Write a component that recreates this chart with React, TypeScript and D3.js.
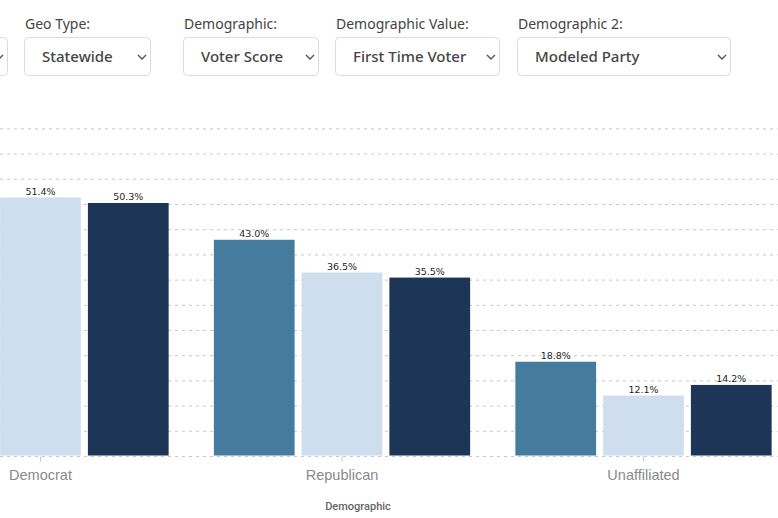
import React, { useEffect, useRef } from "react";
import * as d3 from "d3";

const width = 778;
const height = 518;

// party categories on the x axis
const categories = ["Democrat", "Republican", "Unaffiliated"];
// three bars per party (no legend shown in the view)
const seriesKeys = ["firstTimeVoter", "statewideAll", "registered"];
const seriesColors = ["#457b9d", "#cfdeef", "#1d3557"];
// values in percent, one array per series, in category order
const firstTimeVoter = [38.2, 43.0, 18.8];
const statewideAll = [51.4, 36.5, 12.1];
const registered = [50.3, 35.5, 14.2];
const yTicks = [0, 5, 10, 15, 20, 25, 30, 35, 40, 45, 50, 55, 60, 65];

// dropdown filters along the top
const filterLabels = ["", "Geo Type:", "Demographic:", "Demographic Value:", "Demographic 2:"];
const filterValues = ["", "Statewide", "Voter Score", "First Time Voter", "Modeled Party"];
const filterX = [-120, 24, 183, 335, 517];
const filterW = [127, 126, 135, 164, 213];

const App: React.FC = () => {
  const svgRef = useRef<SVGSVGElement | null>(null);

  useEffect(() => {
    if (!svgRef.current) return;
    const svg = d3.select(svgRef.current);
    svg.selectAll("*").remove();

    const seriesValues = [firstTimeVoter, statewideAll, registered];
    const data = categories.map((c, i) => ({
      category: c,
      values: seriesKeys.map((k, j) => ({ key: k, value: seriesValues[j][i] })),
    }));

    // filters
    const ui = svg.append("g").attr("class", "filters");
    filterLabels.forEach((label, i) => {
      const g = ui.append("g").attr("transform", `translate(${filterX[i]},0)`);
      g.append("text")
        .attr("x", 1)
        .attr("y", 29)
        .attr("font-family", "'Noto Sans', sans-serif")
        .attr("font-size", 14)
        .attr("fill", "#444")
        .text(label);
      g.append("rect")
        .attr("x", 0.5)
        .attr("y", 37.5)
        .attr("width", filterW[i])
        .attr("height", 38)
        .attr("rx", 4)
        .attr("fill", "#fff")
        .attr("stroke", "#dcdcdc");
      g.append("text")
        .attr("x", 18)
        .attr("y", 62)
        .attr("font-family", "'Noto Sans', sans-serif")
        .attr("font-size", 15)
        .attr("font-weight", 500)
        .attr("fill", "#454545")
        .text(filterValues[i]);
      const cx = filterW[i] - 8;
      g.append("path")
        .attr("d", `M${cx - 4},55 L${cx},59 L${cx + 4},55`)
        .attr("fill", "none")
        .attr("stroke", "#555")
        .attr("stroke-width", 1.4);
    });

    // scales
    const x0 = d3
      .scaleBand()
      .domain(categories)
      .range([-110.25, 794.25])
      .paddingInner(0.15)
      .paddingOuter(0.075);
    const x1 = d3
      .scaleBand()
      .domain(seriesKeys)
      .range([0, x0.bandwidth()])
      .paddingInner(0.08);
    const color = d3.scaleOrdinal<string>().domain(seriesKeys).range(seriesColors);
    const y = d3.scaleLinear().domain([0, 65]).range([456.5, 128.9]);

    // gridlines
    svg
      .append("g")
      .selectAll("line")
      .data(yTicks)
      .join("line")
      .attr("x1", 0)
      .attr("x2", width)
      .attr("y1", (d) => y(d))
      .attr("y2", (d) => y(d))
      .attr("stroke", "#c8c8c8")
      .attr("stroke-dasharray", "3,4");

    // ticks under categories
    svg
      .append("g")
      .selectAll("line")
      .data(categories)
      .join("line")
      .attr("x1", (d) => x0(d)! + x0.bandwidth() / 2)
      .attr("x2", (d) => x0(d)! + x0.bandwidth() / 2)
      .attr("y1", y(0))
      .attr("y2", y(0) + 5)
      .attr("stroke", "#c8c8c8");

    // bars
    const groups = svg
      .append("g")
      .selectAll("g")
      .data(data)
      .join("g")
      .attr("transform", (d) => `translate(${x0(d.category)},0)`);

    groups
      .selectAll("rect")
      .data((d) => d.values)
      .join("rect")
      .attr("x", (d) => x1(d.key)!)
      .attr("y", (d) => y(d.value))
      .attr("width", x1.bandwidth())
      .attr("height", (d) => y(0) - 1 - y(d.value))
      .attr("fill", (d) => color(d.key));

    // value labels, skipping bars that sit outside the visible area
    groups
      .selectAll("text")
      .data((d) =>
        d.values.filter((v) => x0(d.category)! + x1(v.key)! + x1.bandwidth() > 0)
      )
      .join("text")
      .attr("x", (d) => x1(d.key)! + x1.bandwidth() / 2)
      .attr("y", (d) => y(d.value) - 2.5)
      .attr("text-anchor", "middle")
      .attr("font-family", "'DejaVu Sans', sans-serif")
      .attr("font-size", 9.5)
      .attr("fill", "#262626")
      .text((d) => `${d.value.toFixed(1)}%`);

    // category labels
    svg
      .append("g")
      .selectAll("text")
      .data(categories)
      .join("text")
      .attr("x", (d) => x0(d)! + x0.bandwidth() / 2)
      .attr("y", 480)
      .attr("text-anchor", "middle")
      .attr("font-family", "'Liberation Sans', Arial, sans-serif")
      .attr("font-size", 14.5)
      .attr("fill", "#8a8a8a")
      .text((d) => d);

    // axis title
    svg
      .append("text")
      .attr("x", 358)
      .attr("y", 510)
      .attr("text-anchor", "middle")
      .attr("font-family", "Roboto, sans-serif")
      .attr("font-size", 11)
      .attr("font-weight", 500)
      .attr("fill", "#666")
      .text("Demographic");

    return () => {
      svg.selectAll("*").remove();
    };
  }, []);

  return (
    <svg
      ref={svgRef}
      width={width}
      height={height}
      style={{ position: "fixed", left: 0, top: 0, background: "#fff" }}
    />
  );
};

export default App;
